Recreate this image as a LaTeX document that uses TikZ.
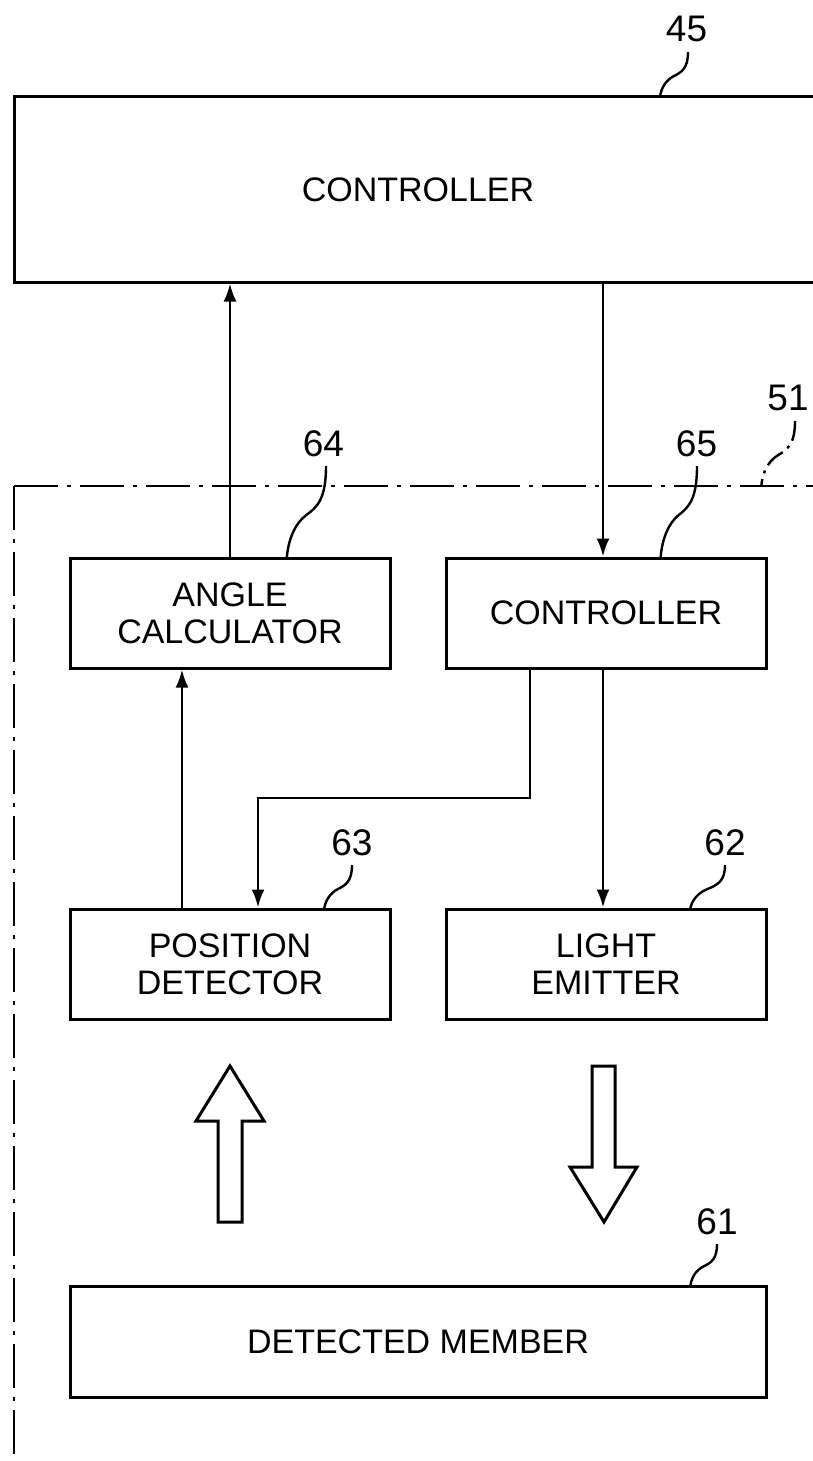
\documentclass[tikz,border=0pt]{standalone}
\usepackage{fontspec}
\setmainfont{Liberation Sans}
\usetikzlibrary{arrows.meta}
\begin{document}
\begin{tikzpicture}[x=1pt,y=-1pt,
  box/.style={draw, line width=3pt, inner sep=0pt, align=center, font=\fontsize{34}{37}\selectfont},
  num/.style={font=\fontsize{37}{40}\selectfont, inner sep=0pt},
  conn/.style={line width=2.6pt, -{Latex[length=18pt,width=13pt]}},
  lead/.style={line width=2.4pt},
  bound/.style={line width=2.8pt, dash pattern=on 44pt off 9pt on 4pt off 9pt},
  leader/.pic={\draw[lead] (0,0) .. controls (0,16) and (-6,20) .. (-14,24) .. controls (-22,28) and (-27,36) .. (-28,45);},
  dleader/.pic={\draw[lead, dash pattern=on 20pt off 6pt on 3pt off 6pt] (0,0) .. controls (0,16) and (-6,20) .. (-14,24) .. controls (-22,28) and (-27,36) .. (-28,45);}
]
\useasboundingbox (0,0) rectangle (812,1461);
% boxes
\node[box, minimum width=808pt, minimum height=185pt] (c45) at (418,189.5) {CONTROLLER};
\node[box, minimum width=320pt, minimum height=110pt] (ac) at (230,613) {ANGLE\\CALCULATOR};
\node[box, minimum width=320pt, minimum height=110pt] (c65) at (606,613) {CONTROLLER};
\node[box, minimum width=320pt, minimum height=110pt] (pd) at (230,964) {POSITION\\DETECTOR};
\node[box, minimum width=320pt, minimum height=110pt] (le) at (606,964) {LIGHT\\EMITTER};
\node[box, minimum width=696pt, minimum height=111pt] (dm) at (418,1341.5) {DETECTED MEMBER};
% boundary 51
\draw[bound] (14,486) -- (830,486);
\draw[bound] (14,486) -- (14,1480);
% connectors
\draw[conn] (ac.north) -- (ac.north |- c45.south);
\draw[conn] ([xshift=-3pt]c45.south -| c65.north) -- ([xshift=-3pt]c65.north);
\draw[conn] ([xshift=-48pt]pd.north) -- ([xshift=-48pt]ac.south);
\coordinate (j) at (258,798);
\draw[conn] ([xshift=-76pt]c65.south) |- (j) -- (j |- pd.north);
\draw[conn] ([xshift=-3pt]c65.south) -- ([xshift=-3pt]le.north);
% hollow arrows
\draw[line width=3pt] (218,1222) -- (218,1121) -- (196,1121) -- (230,1066) -- (264,1121) -- (242,1121) -- (242,1222) -- cycle;
\draw[line width=3pt] (592,1066) -- (592,1167) -- (570,1167) -- (604,1222) -- (637,1167) -- (615,1167) -- (615,1066) -- cycle;
% labels
\node[num] (n45) at (686.5,28.5) {45};
\node[num] (n64) at (323.5,444) {64};
\node[num] (n65) at (696.5,443.5) {65};
\node[num] (n51) at (788,398) {51};
\node[num] (n63) at (352,843) {63};
\node[num] (n62) at (725,843) {62};
\node[num] (n61) at (717,1222) {61};
% leaders
\pic at (688,52) {leader};
\pic[xscale=1.4, yscale=2.04] at (326,466) {leader};
\pic[xscale=1.3, yscale=2.04] at (697,466) {leader};
\pic at (352,865) {leader};
\pic[xscale=1.25] at (725,865) {leader};
\pic[xscale=0.95, yscale=0.93] at (717,1244) {leader};
\pic[xscale=1.2, yscale=1.42] at (795,421) {dleader};
\end{tikzpicture}
\end{document}
